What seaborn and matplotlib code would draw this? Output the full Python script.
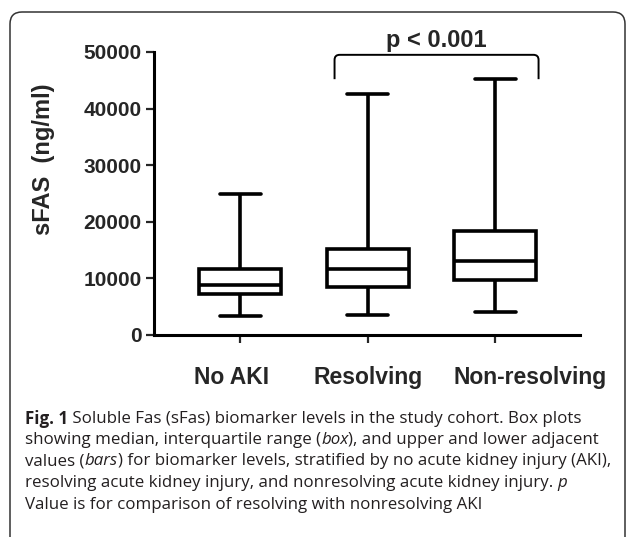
"""Soluble Fas (sFas) box plots by AKI group, with figure caption."""

import numpy as np
import pandas as pd
import matplotlib
matplotlib.use("Agg")
import matplotlib.pyplot as plt
import matplotlib.transforms as mtransforms
import seaborn as sns
from matplotlib.patches import FancyBboxPatch, PathPatch
from matplotlib.path import Path

# five-number summaries: low whisker, Q1, median, Q3, high whisker
groups = ["No AKI", "Resolving", "Non-resolving"]
no_aki = [3400, 7250, 8900, 11600, 24900]
resolving = [3550, 8500, 11600, 15200, 42650]
non_resolving = [4000, 9700, 13000, 18450, 45250]
y_ticks = [0, 10000, 20000, 30000, 40000, 50000]
p_text = "p < 0.001"

caption_lines = [
    [("Fig. 1", "bold", "normal"),
     (" Soluble Fas (sFas) biomarker levels in the study cohort. Box plots", "normal", "normal")],
    [("showing median, interquartile range (", "normal", "normal"), ("box", "normal", "italic"),
     ("), and upper and lower adjacent", "normal", "normal")],
    [("values (", "normal", "normal"), ("bars", "normal", "italic"),
     (") for biomarker levels, stratified by no acute kidney injury (AKI),", "normal", "normal")],
    [("resolving acute kidney injury, and nonresolving acute kidney injury. ", "normal", "normal"),
     ("p", "normal", "italic")],
    [("Value is for comparison of resolving with nonresolving AKI", "normal", "normal")],
]

df = pd.DataFrame({
    "group": np.repeat(groups, 5),
    "sfas": no_aki + resolving + non_resolving,
})

W, H = 627, 537
sns.set_style("white")
plt.rcParams["font.family"] = ["Liberation Sans", "DejaVu Sans"]

fig = plt.figure(figsize=(W / 100, H / 100), dpi=100)
ax = fig.add_axes([154 / W, (H - 335) / H, 426 / W, 283 / H])

sns.boxplot(data=df, x="group", y="sfas", order=groups, whis=(0, 100),
            color="white", linecolor="black", linewidth=2.6, width=0.64,
            showfliers=False, ax=ax)

ax.set_xlim(-0.676, 2.665)
ax.set_ylim(0, 50000)
ax.set_yticks(y_ticks)
ax.set_yticklabels([str(t) for t in y_ticks], fontsize=15, fontweight="bold")
ax.set_xticks(range(len(groups)))
ax.set_xticklabels(groups, fontsize=16.5, fontweight="bold")
ax.tick_params(axis="y", direction="out", length=6, width=1.6, pad=3, left=True)
ax.tick_params(axis="x", direction="out", length=6, width=1.6, pad=16, bottom=True)
# the group labels in the original are not centred on their ticks
for lab, shift in zip(ax.get_xticklabels(), [-9, 0, 35]):
    lab.set_transform(lab.get_transform() +
                      mtransforms.ScaledTranslation(shift / 100, 0, fig.dpi_scale_trans))
ax.set_xlabel("")
ax.set_ylabel("sFAS  (ng/ml)", fontsize=17, fontweight="bold")
ax.yaxis.set_label_coords(-0.232, 0.622)
sns.despine(ax=ax)
for side in ["left", "bottom"]:
    ax.spines[side].set_linewidth(2.2)
    ax.spines[side].set_color("black")

# significance bracket between Resolving and Non-resolving
xl, xr = 1 - 0.26, 2 + 0.34
yt, yb = 49500, 45200
rx, ry = 0.04, 900
verts = [(xl, yb), (xl, yt - ry), (xl, yt), (xl + rx, yt), (xr - rx, yt),
         (xr, yt), (xr, yt - ry), (xr, yb)]
codes = [Path.MOVETO, Path.LINETO, Path.CURVE3, Path.CURVE3, Path.LINETO,
         Path.CURVE3, Path.CURVE3, Path.LINETO]
ax.add_patch(PathPatch(Path(verts, codes), fill=False, lw=1.4, color="black", clip_on=False))
ax.text((xl + xr) / 2, 50900, p_text, ha="center", va="baseline",
        fontsize=17, fontweight="bold", clip_on=False)

# rounded frame around the figure panel (bottom edge cut off)
frame = FancyBboxPatch((10, -30), 615, 525 + 30, boxstyle="round,pad=0,rounding_size=12",
                       transform=None, fill=False, lw=1.1, edgecolor="#333333")
fig.patches.append(frame)

# caption with mixed bold / italic runs
cap_font = ["Open Sans", "DejaVu Sans"]
renderer = fig.canvas.get_renderer()
y_pos = [417, 438, 459, 481, 503]
for line, yp in zip(caption_lines, y_pos):
    x = 25
    for txt, weight, style in line:
        t = fig.text(x / W, (H - yp) / H, txt, fontsize=12.2, fontweight=weight,
                     fontstyle=style, family=cap_font, color="#231f20",
                     ha="left", va="center_baseline")
        bb = t.get_window_extent(renderer=renderer)
        x = bb.x1

fig.savefig("out.png", dpi=100)
